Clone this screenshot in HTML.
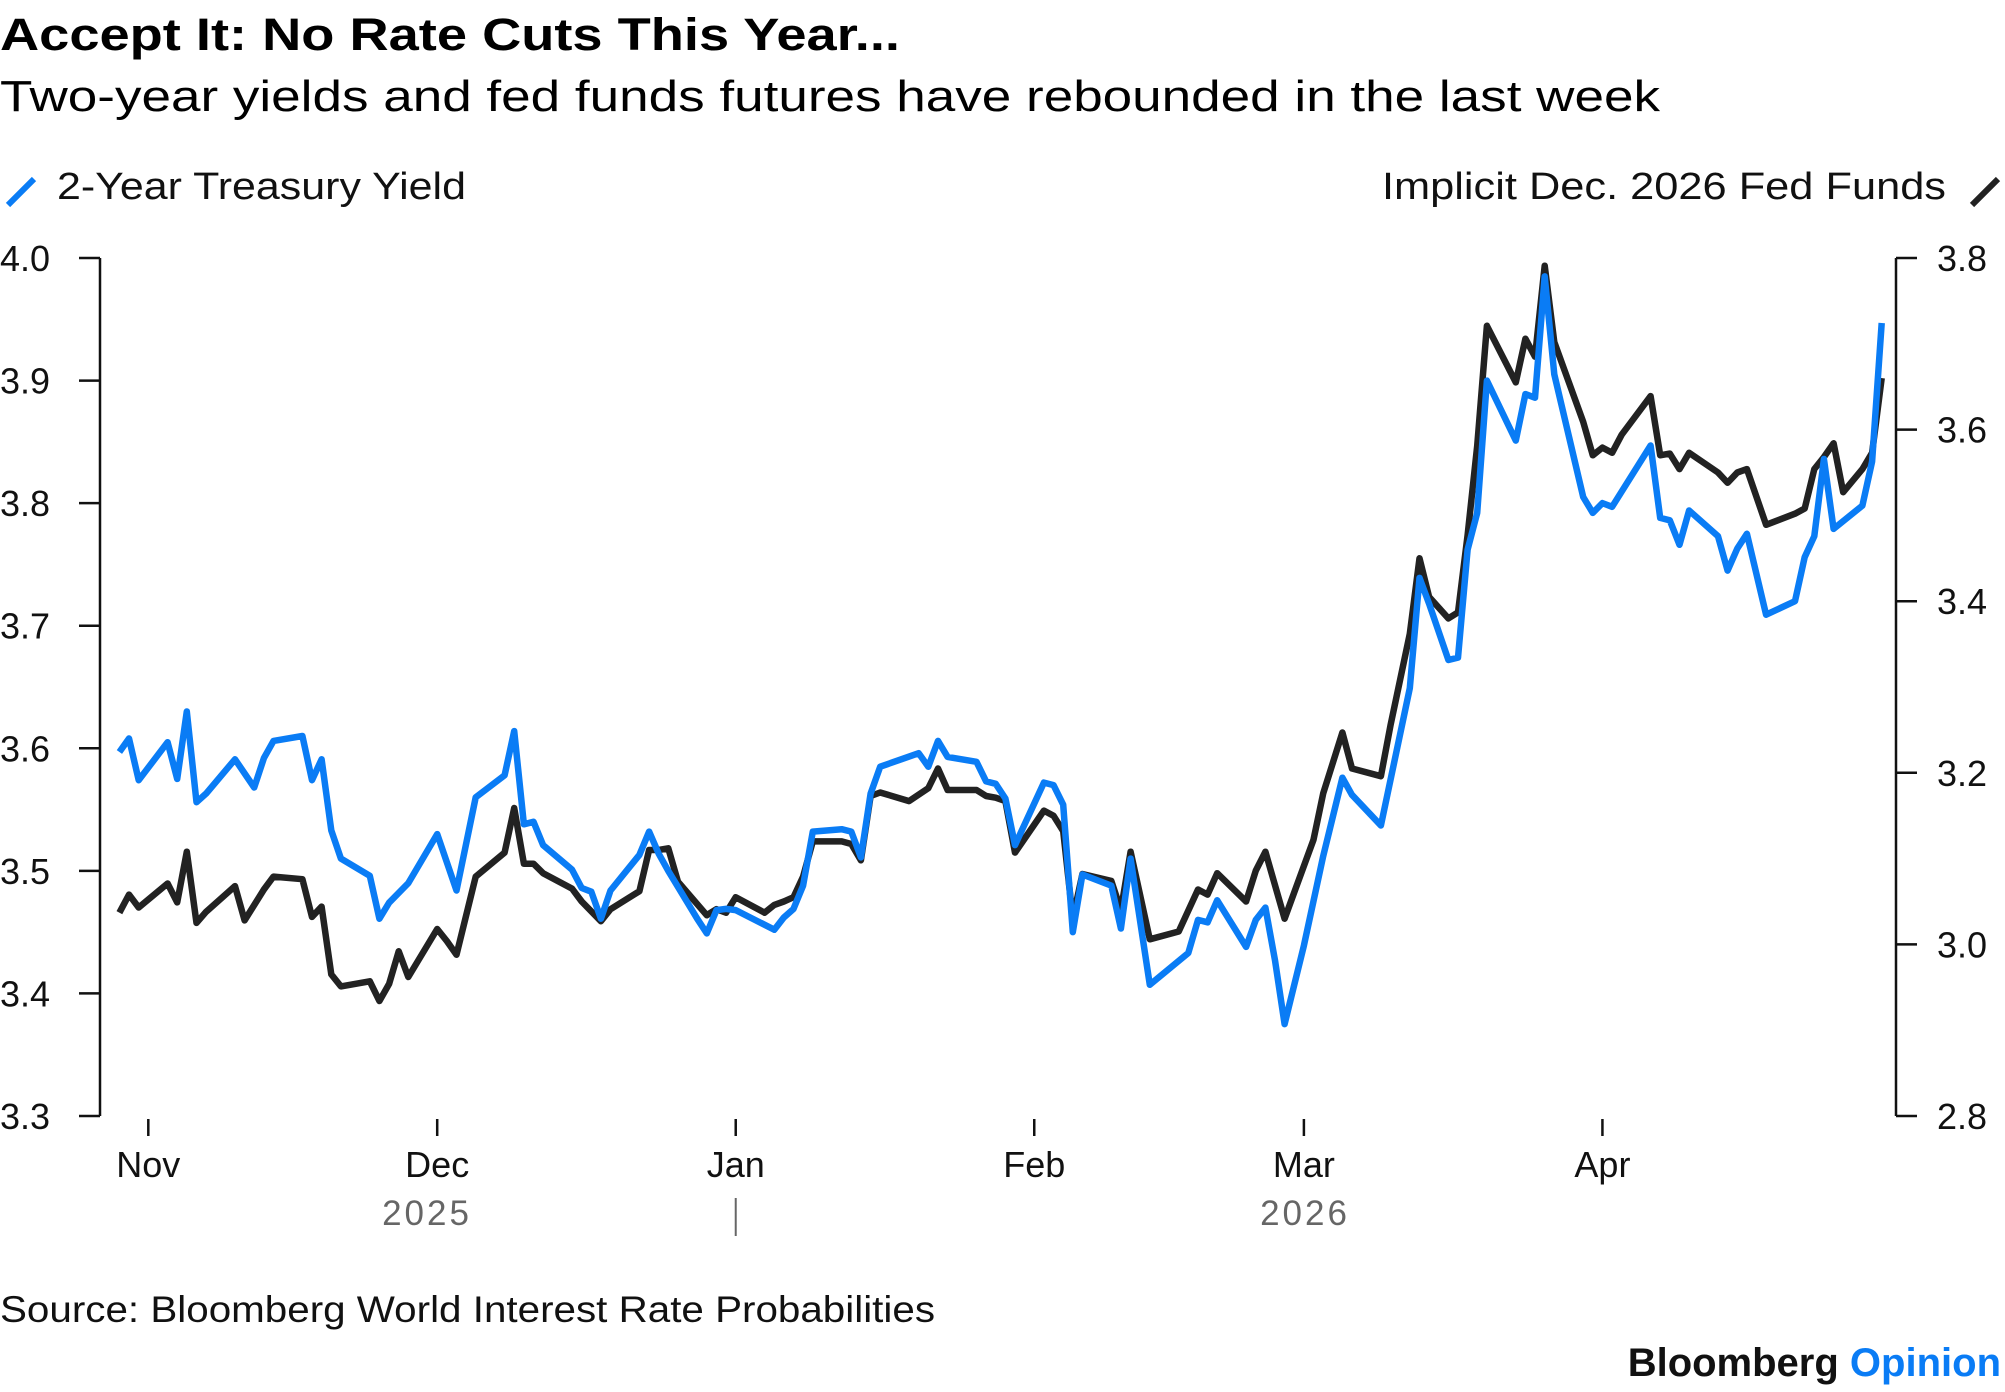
<!DOCTYPE html>
<html><head><meta charset="utf-8"><style>
html,body{margin:0;padding:0;background:#fff;}
svg{display:block;font-family:"Liberation Sans",sans-serif;}
</style></head><body>
<svg id="chart" width="2005" height="1392" viewBox="0 0 2005 1392" xmlns="http://www.w3.org/2000/svg">
<text x="0" y="50" font-size="45" font-weight="bold" fill="#000" textLength="900" lengthAdjust="spacingAndGlyphs">Accept It: No Rate Cuts This Year...</text>
<text x="0" y="111" font-size="44" fill="#000" textLength="1660" lengthAdjust="spacingAndGlyphs">Two-year yields and fed funds futures have rebounded in the last week</text>
<g>
<line x1="8" y1="205" x2="34" y2="179" stroke="#0a7cf5" stroke-width="6"/>
<text x="57" y="199" font-size="38" fill="#111" textLength="409" lengthAdjust="spacingAndGlyphs">2-Year Treasury Yield</text>
</g>
<g>
<text x="1382" y="199" font-size="38" fill="#111" textLength="564" lengthAdjust="spacingAndGlyphs">Implicit Dec. 2026 Fed Funds</text>
<line x1="1972" y1="205" x2="1998" y2="179" stroke="#222" stroke-width="6"/>
</g>
<g id="axes"></g>
<g id="series"></g>
<text x="0" y="1322" font-size="37" fill="#111" textLength="935" lengthAdjust="spacingAndGlyphs">Source: Bloomberg World Interest Rate Probabilities</text>
<text x="2001" y="1376" font-size="40" font-weight="bold" text-anchor="end" fill="#111">Bloomberg <tspan fill="#0a7cf5">Opinion</tspan></text>
</svg>
<script>
const blueDays=[-3,-2,-1,2,3,4,5,6,9,11,12,13,16,17,18,19,20,23,24,25,27,30,32,34,37,38,39,40,41,44,45,46,47,48,51,52,53,54,57,58,59,60,61,65,66,67,68,69,72,73,74,75,76,80,81,82,83,86,87,88,89,90,93,94,95,96,97,100,101,102,104,108,109,110,111,114,115,116,117,118,120,122,124,125,128,131,132,133,135,136,137,138,139,142,143,144,145,146,149,150,151,152,156,157,158,159,160,163,164,165,166,168,171,172,173,174,175,178,179,180];
const treasuryYield=[3.597,3.608,3.574,3.605,3.575,3.630,3.556,3.563,3.591,3.568,3.592,3.606,3.610,3.574,3.591,3.533,3.510,3.496,3.461,3.474,3.490,3.530,3.484,3.560,3.578,3.614,3.538,3.540,3.521,3.501,3.486,3.483,3.461,3.484,3.513,3.532,3.514,3.500,3.461,3.449,3.468,3.469,3.468,3.452,3.462,3.469,3.488,3.532,3.534,3.532,3.511,3.563,3.585,3.596,3.585,3.606,3.593,3.589,3.573,3.571,3.559,3.521,3.572,3.570,3.554,3.450,3.497,3.488,3.453,3.510,3.407,3.433,3.460,3.458,3.476,3.438,3.460,3.470,3.427,3.375,3.439,3.512,3.576,3.562,3.537,3.649,3.739,3.718,3.672,3.674,3.762,3.792,3.900,3.851,3.889,3.886,3.985,3.905,3.805,3.792,3.800,3.797,3.847,3.788,3.786,3.766,3.794,3.773,3.745,3.763,3.775,3.709,3.720,3.756,3.773,3.836,3.779,3.798,3.834,3.947];
const blackDays=[-3,-2,-1,2,3,4,5,6,9,10,12,13,16,17,18,19,20,23,24,25,26,27,30,31,32,34,37,38,39,40,41,44,45,47,48,51,52,53,54,55,58,59,60,61,64,65,66,67,68,69,72,73,74,75,76,79,81,82,83,86,87,88,89,90,93,94,95,96,97,100,101,102,104,107,109,110,111,114,115,116,118,121,122,124,125,128,129,131,132,133,135,136,137,138,139,142,143,144,145,146,149,150,151,152,153,156,157,158,159,160,163,164,165,166,168,171,172,173,174,175,176,178,179,180];
const fedFunds=[3.037,3.058,3.043,3.071,3.049,3.108,3.025,3.038,3.068,3.028,3.064,3.079,3.076,3.032,3.044,2.965,2.951,2.957,2.934,2.954,2.992,2.962,3.018,3.004,2.988,3.079,3.107,3.159,3.094,3.094,3.083,3.065,3.050,3.027,3.041,3.062,3.110,3.110,3.112,3.073,3.034,3.041,3.037,3.055,3.037,3.046,3.050,3.055,3.079,3.120,3.120,3.117,3.098,3.173,3.177,3.167,3.182,3.205,3.180,3.180,3.173,3.171,3.167,3.107,3.156,3.150,3.132,3.030,3.082,3.074,3.040,3.108,3.006,3.015,3.064,3.058,3.083,3.050,3.086,3.108,3.030,3.122,3.176,3.247,3.205,3.196,3.256,3.362,3.450,3.405,3.380,3.387,3.477,3.581,3.721,3.655,3.706,3.685,3.791,3.702,3.609,3.570,3.579,3.573,3.594,3.639,3.570,3.572,3.554,3.573,3.550,3.538,3.550,3.554,3.489,3.502,3.508,3.554,3.568,3.584,3.527,3.554,3.573,3.660];
const leftTicks=[3.3,3.4,3.5,3.6,3.7,3.8,3.9,4.0];
const rightTicks=[2.8,3.0,3.2,3.4,3.6,3.8];
const monthLabels=["Nov","Dec","Jan","Feb","Mar","Apr"];
const monthDays=[0,30,61,92,120,151];

const NS="http://www.w3.org/2000/svg";
const TOP=258,BOT=1116,LX=100,RX=1896;
const xOf=d=>148.3+d*9.63;
const yL=v=>BOT-(v-3.3)/(4.0-3.3)*(BOT-TOP);
const yR=v=>BOT-(v-2.8)/(3.8-2.8)*(BOT-TOP);
function mk(tag,attrs,parent,text){const e=document.createElementNS(NS,tag);for(const k in attrs)e.setAttribute(k,attrs[k]);if(text!==undefined)e.textContent=text;parent.appendChild(e);return e;}
const axes=document.getElementById('axes'),series=document.getElementById('series');

const la=mk('line',{x1:LX,y1:TOP,x2:LX,y2:BOT,stroke:'#111','stroke-width':2.5},axes);


const ra=mk('line',{x1:RX,y1:TOP,x2:RX,y2:BOT,stroke:'#111','stroke-width':2.5},axes);


leftTicks.forEach(v=>{
  const y=yL(v);
  mk('line',{x1:LX-21,y1:y,x2:LX,y2:y,stroke:'#111','stroke-width':2.5},axes);
  const t=mk('text',{x:0,y:y+13,'font-size':36,fill:'#111'},axes,v.toFixed(1));
  
  
});
rightTicks.forEach(v=>{
  const y=yR(v);
  mk('line',{x1:RX,y1:y,x2:RX+21,y2:y,stroke:'#111','stroke-width':2.5},axes);
  const t=mk('text',{x:1937,y:y+13,'font-size':36,fill:'#111'},axes,v.toFixed(1));
  
  
});
monthLabels.forEach((m,i)=>{
  const x=xOf(monthDays[i]);
  mk('line',{x1:x,y1:1119,x2:x,y2:1136,stroke:'#111','stroke-width':2.5},axes);
  const t=mk('text',{x:x,y:1177,'font-size':36,fill:'#111','text-anchor':'middle'},axes,m);
  
  
});
const y1=mk('text',{x:427,y:1225,'font-size':35,fill:'#666','text-anchor':'middle','letter-spacing':3},axes,'2025');


const y2=mk('text',{x:1305,y:1225,'font-size':35,fill:'#666','text-anchor':'middle','letter-spacing':3},axes,'2026');


const sep=mk('line',{x1:xOf(61),y1:1198,x2:xOf(61),y2:1236,stroke:'#666','stroke-width':2},axes);



const bp=mk('path',{d:fedFunds.map((v,i)=>(i?'L':'M')+xOf(blackDays[i]).toFixed(1)+','+yR(v).toFixed(1)).join(''),fill:'none',stroke:'#222','stroke-width':6.5,'stroke-linejoin':'round'},series);


const lp=mk('path',{d:treasuryYield.map((v,i)=>(i?'L':'M')+xOf(blueDays[i]).toFixed(1)+','+yL(v).toFixed(1)).join(''),fill:'none',stroke:'#0a7cf5','stroke-width':6.5,'stroke-linejoin':'round'},series);


</script>
</body></html>
